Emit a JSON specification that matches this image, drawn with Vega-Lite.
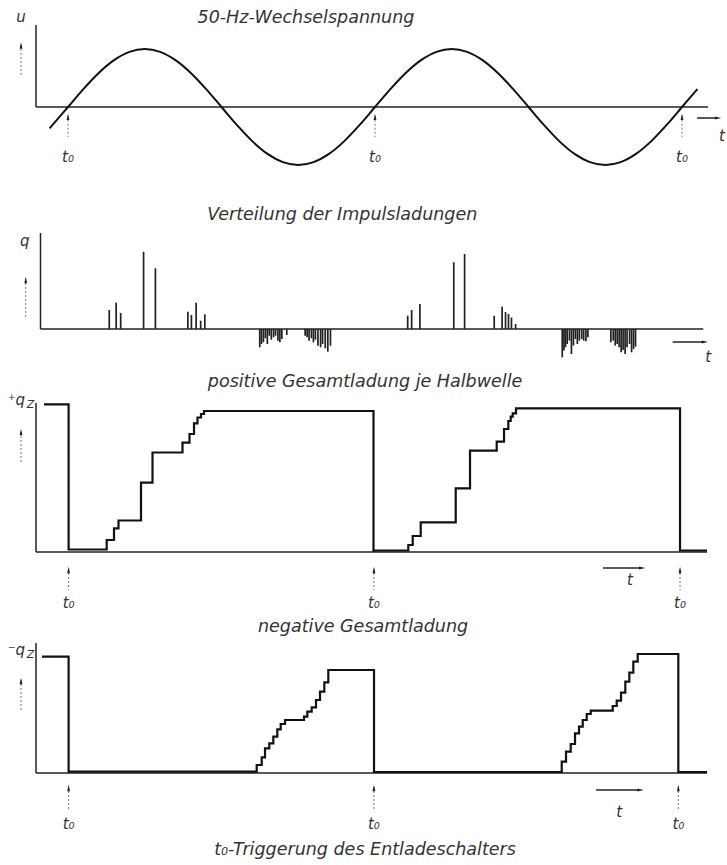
{
"$schema":"https://vega.github.io/schema/vega-lite/v6.json",
"padding":0,"spacing":0,
"background":"white",
"config":{"view":{"stroke":null},"text":{"font":"DejaVu Sans","fontStyle":"italic","fill":"#333","fontSize":15,"baseline":"middle"}},
"datasets":{
"sine":[{"x":-1.2,"y":-0.368},{"x":0,"y":0},{"x":1,"y":0.309},{"x":2,"y":0.588},{"x":3,"y":0.809},{"x":4,"y":0.951},{"x":5,"y":1},{"x":6,"y":0.951},{"x":7,"y":0.809},{"x":8,"y":0.588},{"x":9,"y":0.309},{"x":10,"y":0},{"x":11,"y":-0.309},{"x":12,"y":-0.588},{"x":13,"y":-0.809},{"x":14,"y":-0.951},{"x":15,"y":-1},{"x":16,"y":-0.951},{"x":17,"y":-0.809},{"x":18,"y":-0.588},{"x":19,"y":-0.309},{"x":20,"y":0},{"x":21,"y":0.309},{"x":22,"y":0.588},{"x":23,"y":0.809},{"x":24,"y":0.951},{"x":25,"y":1},{"x":26,"y":0.951},{"x":27,"y":0.809},{"x":28,"y":0.588},{"x":29,"y":0.309},{"x":30,"y":0},{"x":31,"y":-0.309},{"x":32,"y":-0.588},{"x":33,"y":-0.809},{"x":34,"y":-0.951},{"x":35,"y":-1},{"x":36,"y":-0.951},{"x":37,"y":-0.809},{"x":38,"y":-0.588},{"x":39,"y":-0.309},{"x":40,"y":0},{"x":41,"y":0.309}],
"pulses":[{"x":2.456,"y":19},{"x":2.912,"y":26.3},{"x":3.212,"y":16},{"x":4.723,"y":77.3},{"x":5.505,"y":60.7},{"x":7.648,"y":17.3},{"x":7.883,"y":14},{"x":8.195,"y":26.3},{"x":8.495,"y":8.3},{"x":8.769,"y":14.7},
{"x":12.397,"y":-18.3},{"x":12.508,"y":-15},{"x":12.638,"y":-13.3},{"x":12.769,"y":-9.3},{"x":12.899,"y":-15},{"x":13.029,"y":-6.7},{"x":13.16,"y":-10.7},{"x":13.309,"y":-8.3},{"x":13.44,"y":-6.7},{"x":13.596,"y":-11.7},{"x":13.726,"y":-13.3},{"x":13.857,"y":-10},{"x":14.182,"y":-6},
{"x":15.394,"y":-6.7},{"x":15.524,"y":-8.3},{"x":15.655,"y":-11.7},{"x":15.811,"y":-9.3},{"x":15.941,"y":-13.3},{"x":16.072,"y":-10.7},{"x":16.241,"y":-16.7},{"x":16.417,"y":-18.3},{"x":16.547,"y":-15},{"x":16.723,"y":-19.3},{"x":16.893,"y":-22.7},{"x":17.068,"y":-16.7},
{"x":22.169,"y":13.3},{"x":22.43,"y":19},{"x":22.977,"y":25},{"x":25.212,"y":66.7},{"x":25.928,"y":75},{"x":27.883,"y":13.3},{"x":28.404,"y":22.3},{"x":28.632,"y":17},{"x":28.827,"y":15},{"x":29.023,"y":11.5},{"x":29.296,"y":5},
{"x":32.378,"y":-28.3},{"x":32.489,"y":-21.6},{"x":32.593,"y":-18.3},{"x":32.704,"y":-15},{"x":32.853,"y":-11.6},{"x":32.984,"y":-25},{"x":33.114,"y":-16.6},{"x":33.244,"y":-10},{"x":33.375,"y":-15},{"x":33.505,"y":-11.6},{"x":33.661,"y":-10},{"x":33.791,"y":-11.6},{"x":33.941,"y":-12.3},{"x":34.072,"y":-8.3},
{"x":35.59,"y":-13.3},{"x":35.746,"y":-11.6},{"x":35.876,"y":-16.6},{"x":36.007,"y":-15},{"x":36.137,"y":-18.3},{"x":36.267,"y":-23.3},{"x":36.397,"y":-21},{"x":36.528,"y":-25},{"x":36.658,"y":-18.3},{"x":36.827,"y":-15},{"x":36.958,"y":-23.3},{"x":37.088,"y":-20},{"x":37.218,"y":-17.6}],
"pos":[{"s":1,"x":-1.564,"y":147.7},{"s":1,"x":0.039,"y":2.5},{"s":1,"x":2.521,"y":12},{"s":1,"x":2.997,"y":23.7},{"s":1,"x":3.29,"y":31.5},{"s":1,"x":4.756,"y":69.3},{"s":1,"x":5.505,"y":99.5},{"s":1,"x":7.459,"y":109.3},{"s":1,"x":7.915,"y":118},{"s":1,"x":8.208,"y":128.7},{"s":1,"x":8.436,"y":134.5},{"s":1,"x":8.664,"y":138},{"s":1,"x":8.86,"y":141},{"s":1,"x":19.902,"y":0},
{"s":2,"x":19.935,"y":1.5},{"s":2,"x":22.169,"y":7},{"s":2,"x":22.456,"y":16},{"s":2,"x":22.977,"y":29.7},{"s":2,"x":25.257,"y":63.7},{"s":2,"x":26.189,"y":101.3},{"s":2,"x":27.928,"y":110.3},{"s":2,"x":28.404,"y":123},{"s":2,"x":28.684,"y":131},{"s":2,"x":28.84,"y":135.3},{"s":2,"x":28.971,"y":138.7},{"s":2,"x":29.186,"y":143.7},{"s":2,"x":39.87,"y":1.5},{"s":2,"x":41.629,"y":1.5}],
"neg":[{"s":1,"x":-1.694,"y":116.3},{"s":1,"x":0.039,"y":1.3},{"s":1,"x":12.293,"y":8},{"s":1,"x":12.619,"y":15.7},{"s":1,"x":12.834,"y":24.7},{"s":1,"x":13.114,"y":29.7},{"s":1,"x":13.375,"y":36.3},{"s":1,"x":13.635,"y":43.7},{"s":1,"x":13.857,"y":49},{"s":1,"x":14.137,"y":53},{"s":1,"x":15.375,"y":56.3},{"s":1,"x":15.59,"y":61.3},{"s":1,"x":15.876,"y":65.7},{"s":1,"x":16.156,"y":73},{"s":1,"x":16.417,"y":81.3},{"s":1,"x":16.697,"y":90.7},{"s":1,"x":16.958,"y":103},{"s":1,"x":19.935,"y":0},
{"s":2,"x":19.968,"y":1},{"s":2,"x":32.163,"y":11.3},{"s":2,"x":32.443,"y":21.3},{"s":2,"x":32.749,"y":29},{"s":2,"x":33.029,"y":39.7},{"s":2,"x":33.29,"y":46.3},{"s":2,"x":33.531,"y":53},{"s":2,"x":33.792,"y":59},{"s":2,"x":34.052,"y":62.3},{"s":2,"x":35.485,"y":67},{"s":2,"x":35.746,"y":72.3},{"s":2,"x":36.026,"y":80.3},{"s":2,"x":36.306,"y":91.3},{"s":2,"x":36.567,"y":100.3},{"s":2,"x":36.827,"y":111.3},{"s":2,"x":37.114,"y":119},{"s":2,"x":39.759,"y":1},{"s":2,"x":41.629,"y":1}],
"p1rules":[{"x":-2.085,"x2":-2.085,"y":0,"y2":1.414},{"x":-2.085,"x2":41.69,"y":0,"y2":0},{"x":40.98,"x2":42.3,"y":-0.19,"y2":-0.19}],
"p1dash":[{"x":0,"y":-0.15,"y2":-0.517},{"x":20,"y":-0.15,"y2":-0.517},{"x":40,"y":-0.15,"y2":-0.517},{"x":-3.06,"y":0.552,"y2":1.08}],
"p1up":[{"x":0,"y":-0.17},{"x":20,"y":-0.17},{"x":40,"y":-0.17},{"x":-3.06,"y":1.06}],
"p1right":[{"x":42.35,"y":-0.19}],
"p1lab":[{"x":0,"y":-0.862,"txt":"t₀"},{"x":20,"y":-0.862,"txt":"t₀"},{"x":40,"y":-0.862,"txt":"t₀"},{"x":-3.06,"y":1.55,"txt":"u"},{"x":42.6,"y":-0.5,"txt":"t"}],
"p1title":[{"x":15.5,"y":1.534,"txt":"50-Hz-Wechselspannung"}],
"p2rules":[{"x":-2.085,"x2":-2.085,"y":0,"y2":96},{"x":-2.085,"x2":41.69,"y":0,"y2":0},{"x":39.67,"x2":41.7,"y":-13,"y2":-13}],
"p2dash":[{"x":-3.06,"y":12,"y2":50}],
"p2up":[{"x":-3.06,"y":49}],
"p2right":[{"x":41.8,"y":-13}],
"p2lab":[{"x":-3.127,"y":88,"txt":"q"},{"x":42.02,"y":-28,"txt":"t"}],
"p2title":[{"x":17.85,"y":114,"txt":"Verteilung der Impulsladungen"}],
"p3rules":[{"x":-2.085,"x2":-2.085,"y":0,"y2":149},{"x":-2.085,"x2":41.63,"y":0,"y2":0},{"x":34.85,"x2":37.3,"y":-16,"y2":-16}],
"p3dash":[{"x":0.04,"y":-17,"y2":-38},{"x":19.93,"y":-17,"y2":-38},{"x":39.87,"y":-17,"y2":-38},{"x":-3.06,"y":90,"y2":121}],
"p3up":[{"x":0.04,"y":-18},{"x":19.93,"y":-18},{"x":39.87,"y":-18},{"x":-3.06,"y":120}],
"p3right":[{"x":37.4,"y":-16}],
"p3lab":[{"x":0.04,"y":-51,"txt":"t₀"},{"x":19.93,"y":-51,"txt":"t₀"},{"x":39.87,"y":-51,"txt":"t₀"},{"x":-3.36,"y":152,"txt":"⁺q"},{"x":36.61,"y":-28,"txt":"t"}],
"p3sub":[{"x":-2.45,"y":147,"txt":"Z"}],
"p3title":[{"x":19.35,"y":170,"txt":"positive Gesamtladung je Halbwelle"}],
"p4rules":[{"x":-2.085,"x2":-2.085,"y":0,"y2":130},{"x":-2.085,"x2":41.63,"y":0,"y2":0},{"x":34.4,"x2":37.2,"y":-17,"y2":-17}],
"p4dash":[{"x":0.04,"y":-14,"y2":-37},{"x":19.93,"y":-14,"y2":-37},{"x":39.76,"y":-14,"y2":-37},{"x":-3.06,"y":63,"y2":93}],
"p4up":[{"x":0.04,"y":-15},{"x":19.93,"y":-15},{"x":39.76,"y":-15},{"x":-3.06,"y":92}],
"p4right":[{"x":37.3,"y":-17}],
"p4lab":[{"x":0.04,"y":-51,"txt":"t₀"},{"x":19.93,"y":-51,"txt":"t₀"},{"x":39.76,"y":-51,"txt":"t₀"},{"x":-3.36,"y":123,"txt":"⁻q"},{"x":35.9,"y":-38.7,"txt":"t"}],
"p4sub":[{"x":-2.45,"y":118,"txt":"Z"}],
"p4title":[{"x":19.22,"y":146,"txt":"negative Gesamtladung"},{"x":19.35,"y":-77,"txt":"t₀-Triggerung des Entladeschalters"}]
},
"vconcat":[
{"width":727,"height":190,
 "encoding":{"x":{"field":"x","type":"quantitative","scale":{"domain":[-4.43,42.93],"nice":false,"zero":false},"axis":null},"y":{"field":"y","type":"quantitative","scale":{"domain":[-1.431,1.845],"nice":false,"zero":false},"axis":null}},
 "layer":[
 {"data":{"name":"p1rules"},"mark":{"type":"rule","strokeWidth":1.5,"color":"#222"},"encoding":{"x2":{"field":"x2"},"y2":{"field":"y2"}}},
 {"data":{"name":"sine"},"mark":{"type":"line","interpolate":"cardinal","strokeWidth":2,"color":"#111"},"encoding":{}},
 {"data":{"name":"p1dash"},"mark":{"type":"rule","strokeWidth":0.8,"strokeDash":[2,2],"color":"#555"},"encoding":{"y2":{"field":"y2"}}},
 {"data":{"name":"p1up"},"mark":{"type":"point","shape":"M0,-1L0.45,1L-0.45,1Z","filled":true,"size":40,"color":"#222","opacity":1}},
 {"data":{"name":"p1right"},"mark":{"type":"point","shape":"M1,0L-1,-0.45L-1,0.45Z","filled":true,"size":40,"color":"#222","opacity":1}},
 {"data":{"name":"p1lab"},"mark":{"type":"text"},"encoding":{"text":{"field":"txt"}}},
 {"data":{"name":"p1title"},"mark":{"type":"text","fontSize":17.5},"encoding":{"text":{"field":"txt"}}}
]},
{"width":727,"height":175,
 "encoding":{"x":{"field":"x","type":"quantitative","scale":{"domain":[-4.43,42.93],"nice":false,"zero":false},"axis":null},"y":{"field":"y","type":"quantitative","scale":{"domain":[-36,139],"nice":false,"zero":false},"axis":null}},
 "layer":[
 {"data":{"name":"p2rules"},"mark":{"type":"rule","strokeWidth":1.5,"color":"#222"},"encoding":{"x2":{"field":"x2"},"y2":{"field":"y2"}}},
 {"data":{"name":"pulses"},"mark":{"type":"bar","orient":"vertical","width":1.7,"color":"#222"}},
 {"data":{"name":"p2dash"},"mark":{"type":"rule","strokeWidth":0.8,"strokeDash":[2,2],"color":"#555"},"encoding":{"y2":{"field":"y2"}}},
 {"data":{"name":"p2up"},"mark":{"type":"point","shape":"M0,-1L0.45,1L-0.45,1Z","filled":true,"size":40,"color":"#222","opacity":1}},
 {"data":{"name":"p2right"},"mark":{"type":"point","shape":"M1,0L-1,-0.45L-1,0.45Z","filled":true,"size":40,"color":"#222","opacity":1}},
 {"data":{"name":"p2lab"},"mark":{"type":"text"},"encoding":{"text":{"field":"txt"}}},
 {"data":{"name":"p2title"},"mark":{"type":"text","fontSize":17.5},"encoding":{"text":{"field":"txt"}}}
]},
{"width":727,"height":250,
 "encoding":{"x":{"field":"x","type":"quantitative","scale":{"domain":[-4.43,42.93],"nice":false,"zero":false},"axis":null},"y":{"field":"y","type":"quantitative","scale":{"domain":[-63,187],"nice":false,"zero":false},"axis":null}},
 "layer":[
 {"data":{"name":"p3rules"},"mark":{"type":"rule","strokeWidth":1.5,"color":"#222"},"encoding":{"x2":{"field":"x2"},"y2":{"field":"y2"}}},
 {"data":{"name":"pos"},"mark":{"type":"line","interpolate":"step-after","strokeWidth":2.2,"color":"#111"},"encoding":{"detail":{"field":"s","type":"nominal"}}},
 {"data":{"name":"p3dash"},"mark":{"type":"rule","strokeWidth":0.8,"strokeDash":[2,2],"color":"#555"},"encoding":{"y2":{"field":"y2"}}},
 {"data":{"name":"p3up"},"mark":{"type":"point","shape":"M0,-1L0.45,1L-0.45,1Z","filled":true,"size":40,"color":"#222","opacity":1}},
 {"data":{"name":"p3right"},"mark":{"type":"point","shape":"M1,0L-1,-0.45L-1,0.45Z","filled":true,"size":40,"color":"#222","opacity":1}},
 {"data":{"name":"p3lab"},"mark":{"type":"text"},"encoding":{"text":{"field":"txt"}}},
 {"data":{"name":"p3sub"},"mark":{"type":"text","fontSize":11},"encoding":{"text":{"field":"txt"}}},
 {"data":{"name":"p3title"},"mark":{"type":"text","fontSize":17.5},"encoding":{"text":{"field":"txt"}}}
]},
{"width":727,"height":250,
 "encoding":{"x":{"field":"x","type":"quantitative","scale":{"domain":[-4.43,42.93],"nice":false,"zero":false},"axis":null},"y":{"field":"y","type":"quantitative","scale":{"domain":[-92,158],"nice":false,"zero":false},"axis":null}},
 "layer":[
 {"data":{"name":"p4rules"},"mark":{"type":"rule","strokeWidth":1.5,"color":"#222"},"encoding":{"x2":{"field":"x2"},"y2":{"field":"y2"}}},
 {"data":{"name":"neg"},"mark":{"type":"line","interpolate":"step-after","strokeWidth":2.2,"color":"#111"},"encoding":{"detail":{"field":"s","type":"nominal"}}},
 {"data":{"name":"p4dash"},"mark":{"type":"rule","strokeWidth":0.8,"strokeDash":[2,2],"color":"#555"},"encoding":{"y2":{"field":"y2"}}},
 {"data":{"name":"p4up"},"mark":{"type":"point","shape":"M0,-1L0.45,1L-0.45,1Z","filled":true,"size":40,"color":"#222","opacity":1}},
 {"data":{"name":"p4right"},"mark":{"type":"point","shape":"M1,0L-1,-0.45L-1,0.45Z","filled":true,"size":40,"color":"#222","opacity":1}},
 {"data":{"name":"p4lab"},"mark":{"type":"text"},"encoding":{"text":{"field":"txt"}}},
 {"data":{"name":"p4sub"},"mark":{"type":"text","fontSize":11},"encoding":{"text":{"field":"txt"}}},
 {"data":{"name":"p4title"},"mark":{"type":"text","fontSize":17.5},"encoding":{"text":{"field":"txt"}}}
]}
]
}
